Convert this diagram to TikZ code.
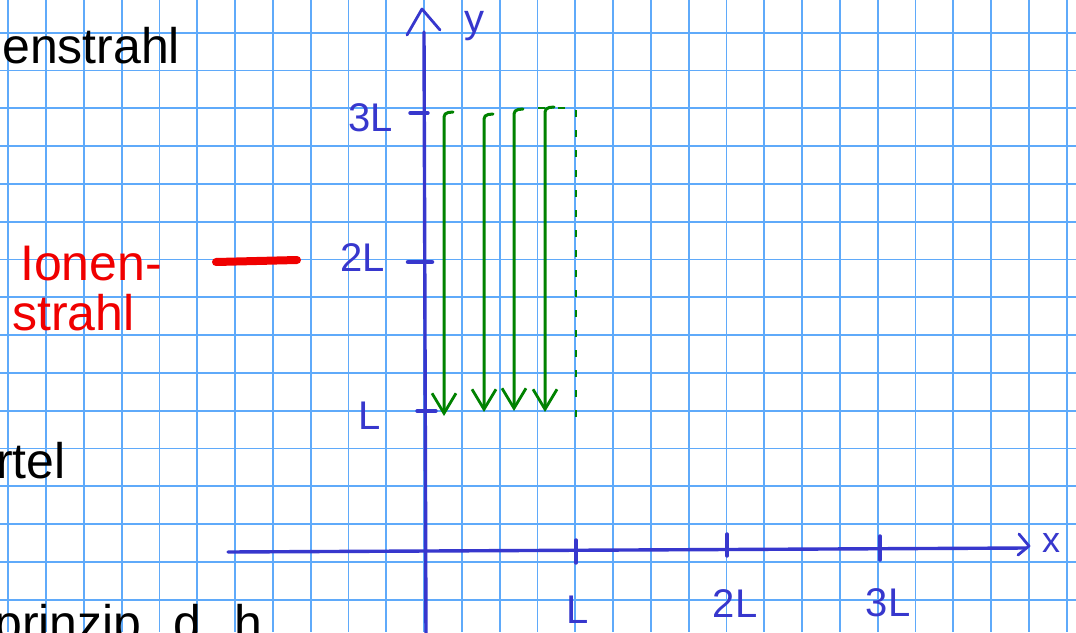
\documentclass[tikz,border=0pt]{standalone}
\usepackage{fontspec}
\setmainfont{Liberation Sans}
\usetikzlibrary{arrows.meta}

\definecolor{gridblue}{RGB}{95,170,250}
\definecolor{penblue}{RGB}{55,55,205}
\definecolor{pengreen}{RGB}{0,130,0}
\definecolor{penred}{RGB}{240,0,0}

\begin{document}
\begin{tikzpicture}[x=1pt,y=-1pt,
    gridline/.style={gridblue,line width=1.7pt},
    axis/.style={penblue,line width=3.4pt,line cap=round,line join=round},
    beam/.style={pengreen,line width=3pt,line cap=round,rounded corners=4pt,-{Straight Barb[length=20pt,width=24pt,line width=2.8pt]}},
    edge/.style={pengreen,line width=2.2pt,dash pattern=on 7pt off 13pt},
    axlabel/.style={penblue,font=\fontsize{40}{44}\selectfont,inner sep=0pt},
    note/.style={font=\fontsize{50}{54}\selectfont,inner sep=0pt,anchor=base west}]
  \fill[white] (0,0) rectangle (1076,632);
  \useasboundingbox (0,0) rectangle (1076,632);
  % squared paper
  \foreach \i in {0,...,28}
    \draw[gridline] ({8.3+37.8*\i},0) -- ++(0,632);
  \foreach \j in {0,...,15}
    \draw[gridline] (0,{32.7+37.8*\j}) -- ++(1076,0);

  % notes on the left
  \node[note] (beamtext) at (2,63) {enstrahl};
  \node[note,penred] (ionA) at (20,280) {Ionen-};
  \node[note,penred] (ionB) at (12,330) {strahl};
  \draw[penred,line width=8pt,line cap=round] (216,262) -- (297,260);
  \node[note] (quarter) at (-4,478) {rtel};
  \node[note] (principle) at (-6,640) {prinzip. d. h.};

  % axes
  \coordinate (yfoot) at (426,640);
  \coordinate (ytop) at (424,32);
  \coordinate (xfoot) at (228,552);
  \coordinate (xtop) at (1026,548);
  \draw[axis] (yfoot) -- (ytop);
  \draw[axis,line width=2.8pt] (407,35) -- (422,9) -- (440,30);
  \node[axlabel] (ylab) at (474,26) {y};
  \draw[axis] (xfoot) -- (xtop);
  \draw[axis,line width=2.8pt] (1019,534) -- (1029,546) -- (1018,555);
  \node[axlabel,font=\fontsize{36}{40}\selectfont] (xlab) at (1051,543) {x};

  % ticks on x
  \draw[axis] (576,540) -- (576,563);
  \draw[axis] (727,534) -- (727,556);
  \draw[axis] (880,536) -- (880,560);
  \node[axlabel] (xL) at (578,610) {L};
  \node[axlabel] (x2L) at (735,604) {2L};
  \node[axlabel] (x3L) at (888,603) {3L};

  % ticks on y
  \draw[axis] (410,113) -- (428,113);
  \draw[axis,line width=4.5pt] (408,262) -- (432,262);
  \draw[axis] (417,411) -- (436,411);
  \node[axlabel] (y3L) at (371,118) {3L};
  \node[axlabel] (y2L) at (363,258) {2L};
  \node[axlabel] (yL) at (370,416) {L};

  % beam region
  \foreach \x/\t/\b in {444/113/416, 484/115/412, 514/110/411, 545/108/412}
    \draw[beam] ({\x+9},{\t-1}) -- (\x,\t) -- (\x,\b);
  \draw[edge] (538,108) -- (576,108) -- (576,418);
\end{tikzpicture}
\end{document}
